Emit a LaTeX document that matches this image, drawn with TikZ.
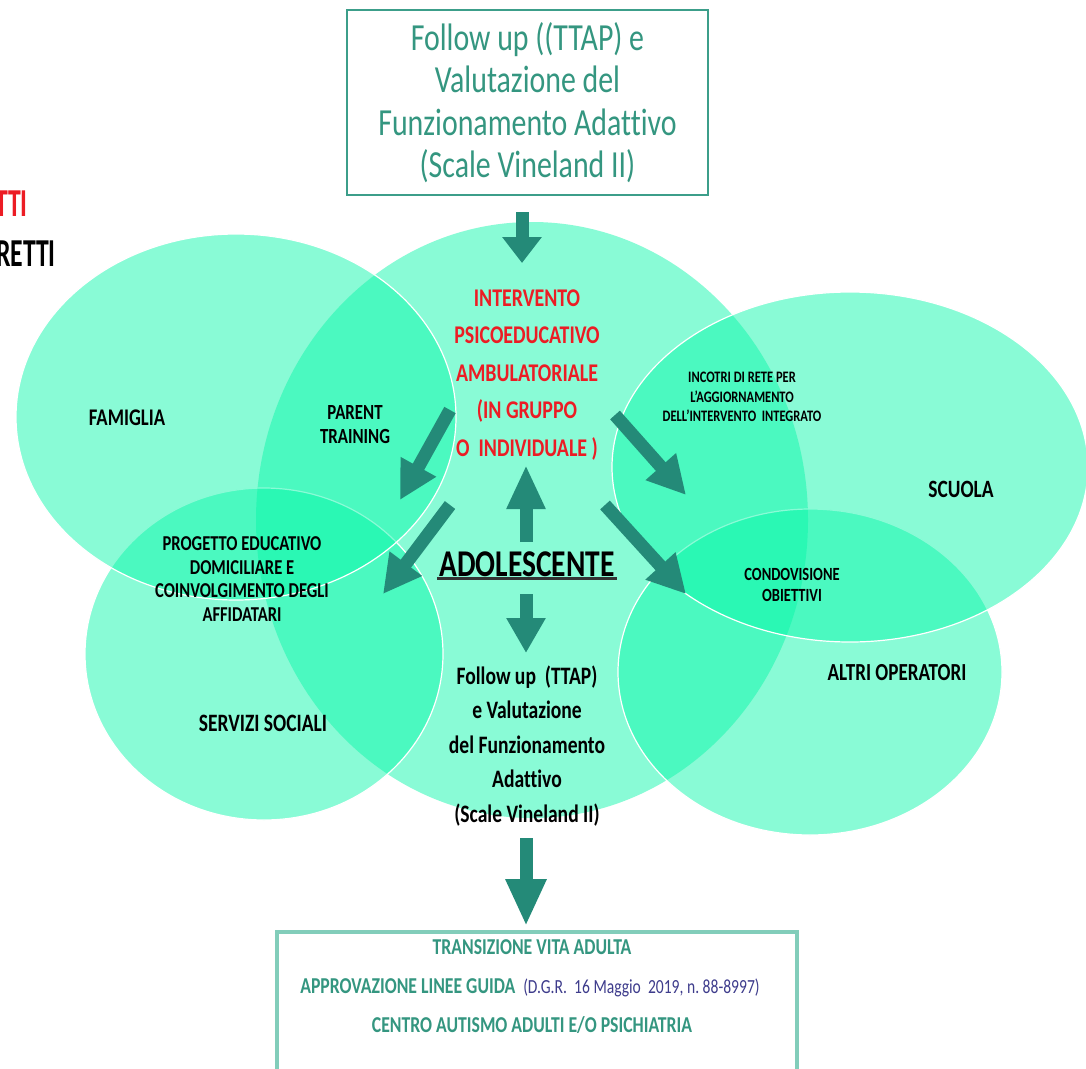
\documentclass[tikz,border=0pt]{standalone}
\usepackage{fontspec}
\setmainfont{Carlito}[FakeStretch=0.78, Ligatures=NoCommon]
\usetikzlibrary{arrows.meta}

\definecolor{mint}{RGB}{6,247,168}
\definecolor{arrowteal}{RGB}{36,138,120}
\definecolor{boxteal}{RGB}{60,158,138}
\definecolor{textteal}{RGB}{52,150,128}
\definecolor{boxlight}{RGB}{130,205,186}
\definecolor{redtxt}{RGB}{236,28,36}
\definecolor{dgrblue}{RGB}{62,60,140}

\newcommand{\fsz}[2]{\fontsize{#1}{#2}\selectfont}

\begin{document}
\begin{tikzpicture}[x=1pt,y=-1pt,
  vennfill/.style={fill=mint, fill opacity=0.47},
  venn/.style={fill=mint, fill opacity=0.47, draw=white, draw opacity=1, line width=1.2pt},
  blockarrow/.style={draw=arrowteal, line width=13pt, -{Triangle[width=38pt,length=38pt]}},
  lbl/.style={inner sep=0pt, align=center},
]
\clip (0,0) rectangle (1086,1068);
\fill[white] (0,0) rectangle (1086,1068);

% overlapping sets
\path[vennfill] (532,520) ellipse [x radius=276, y radius=298];
\path[venn] (264,654) ellipse [x radius=179, y radius=166];
\path[venn] (236,417) ellipse [x radius=220, y radius=183];
\path[venn] (810,672) ellipse [x radius=192, y radius=163];
\path[venn] (850,467) ellipse [x radius=238, y radius=175];

% legend words running off the left edge
\node[lbl, text=redtxt, font=\bfseries\fsz{33}{34}, anchor=east] (legA) at (28,204) {\scalebox{1}[1.2]{TTI}};
\node[lbl, font=\bfseries\fsz{33}{34}, anchor=east] (legB) at (56,254) {\scalebox{1}[1.2]{RETTI}};

% top box
\node[draw=boxteal, line width=1.5pt, minimum width=361pt, minimum height=185pt,
      align=center, text=textteal, font=\fsz{38.3}{42.5}] (topbox) at (527.5,102.5)
  {Follow up ((TTAP) e\\Valutazione del\\Funzionamento Adattivo\\(Scale Vineland II)};

% central intervention
\node[lbl, text=redtxt, font=\bfseries\fsz{25.5}{37.5}] (interv) at (527,375)
  {INTERVENTO\\PSICOEDUCATIVO\\AMBULATORIALE\\(IN GRUPPO\\O~~INDIVIDUALE )};

\node[lbl, font=\bfseries\fsz{23.9}{26}] (famiglia) at (127,418) {FAMIGLIA};
\node[lbl, font=\bfseries\fsz{21.6}{24}] (parent) at (355,425) {PARENT\\TRAINING};
\node[lbl, font=\bfseries\fsz{16}{19.5}] (incontri) at (742,397)
  {INCOTRI DI RETE PER\\L'AGGIORNAMENTO\\DELL'INTERVENTO~~INTEGRATO};
\node[lbl, font=\bfseries\fsz{24.9}{26}] (scuola) at (961,489) {SCUOLA};
\node[lbl, font=\bfseries\fsz{21.2}{23.7}] (progetto) at (242,579)
  {PROGETTO EDUCATIVO\\DOMICILIARE E\\COINVOLGIMENTO DEGLI\\AFFIDATARI};
\node[inner sep=2pt, font=\bfseries\fsz{37.8}{40}] (adol) at (527,564) {ADOLESCENTE};
\draw[line width=2.5pt, black!80] (adol.south west) -- (adol.south east);
\node[lbl, font=\bfseries\fsz{18.6}{21}] (condiv) at (792,585) {CONDOVISIONE\\OBIETTIVI};
\node[lbl, font=\bfseries\fsz{24.5}{26}] (altri) at (897,673) {ALTRI OPERATORI};
\node[lbl, font=\bfseries\fsz{25}{26}] (servizi) at (263,723) {SERVIZI SOCIALI};
\node[lbl, font=\bfseries\fsz{25.1}{34.5}] (follow) at (527,746)
  {Follow up~~(TTAP)\\e Valutazione\\del Funzionamento\\Adattivo\\(Scale Vineland II)};

% bottom box
\node[draw=boxlight, line width=3.5pt, minimum width=520pt, minimum height=150pt] (botbox) at (537,1007) {};
\node[lbl, text=textteal, font=\bfseries\fsz{22.7}{24}] (trans) at (532,947) {TRANSIZIONE VITA ADULTA};
\node[lbl, font=\fsz{22.7}{24}] (linee) at (530,988)
  {\textcolor{textteal}{\bfseries APPROVAZIONE LINEE GUIDA}~~\textcolor{dgrblue}{\fsz{20}{24}(D.G.R.~~16 Maggio~~2019, n.~88-8997)}};
\node[lbl, text=textteal, font=\bfseries\fsz{22.7}{24}] (centro) at (532,1025) {CENTRO AUTISMO ADULTI E/O PSICHIATRIA};

% arrow end points
\coordinate (a1s) at (522,212); \coordinate (a1e) at (522,263);
\coordinate (a2s) at (450,410); \coordinate (a2e) at (400,500);
\coordinate (a3s) at (450,505); \coordinate (a3e) at (383,594);
\coordinate (a4s) at (526,542); \coordinate (a4e) at (526,465);
\coordinate (a5s) at (615,415); \coordinate (a5e) at (686,495);
\coordinate (a6s) at (605,505); \coordinate (a6e) at (686,594);
\coordinate (a7s) at (526,594); \coordinate (a7e) at (526,653);
\coordinate (a8s) at (526,838); \coordinate (a8e) at (526,926);

\draw[blockarrow, -{Triangle[width=38pt,length=26pt]}] (a1s) -- (a1e);
\draw[blockarrow] (a2s) -- (a2e);
\draw[blockarrow] (a3s) -- (a3e);
\draw[blockarrow, -{Triangle[width=36pt,length=44pt]}] (a4s) -- (a4e);
\draw[blockarrow] (a5s) -- (a5e);
\draw[blockarrow] (a6s) -- (a6e);
\draw[blockarrow, -{Triangle[width=37pt,length=35pt]}] (a7s) -- (a7e);
\draw[blockarrow, -{Triangle[width=38pt,length=47pt]}] (a8s) -- (a8e);
\end{tikzpicture}
\end{document}
